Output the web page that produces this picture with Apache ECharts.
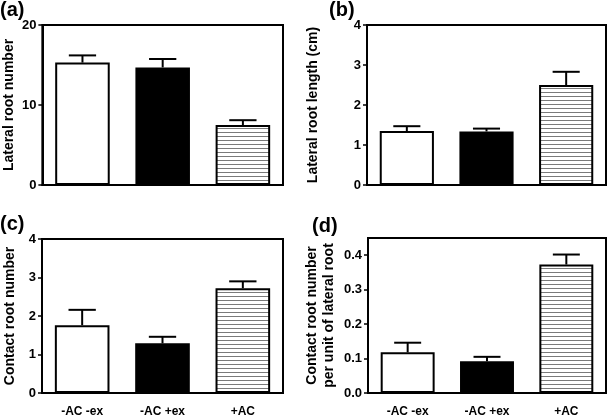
<!DOCTYPE html>
<html><head><meta charset="utf-8">
<script src="https://cdn.jsdelivr.net/npm/echarts@6/dist/echarts.min.js"></script>
<style>html,body{margin:0;padding:0;background:#fff}#c{width:609px;height:418px}</style>
</head><body><div id="c"></div>
<script>
var categories = ['-AC -ex', '-AC +ex', '+AC'];
var lateralRootNumber = [15.3, 14.7, 7.5];
var lateralRootNumberErr = [0.9, 1.05, 0.6];
var lateralRootLength = [1.35, 1.34, 2.5];
var lateralRootLengthErr = [0.12, 0.07, 0.33];
var contactRootNumber = [1.76, 1.29, 2.72];
var contactRootNumberErr = [0.4, 0.17, 0.18];
var contactPerLateral = [0.118, 0.092, 0.373];
var contactPerLateralErr = [0.028, 0.013, 0.029];
var yTitles = ['Lateral root number', 'Lateral root length (cm)', 'Contact root number', 'Contact root number\nper unit of lateral root'];
var panelLabels = ['(a)', '(b)', '(c)', '(d)'];

var pc = document.createElement('canvas');
pc.width = 4; pc.height = 4;
var pctx = pc.getContext('2d');
pctx.fillStyle = '#fff'; pctx.fillRect(0, 0, 4, 4);
pctx.fillStyle = '#7a7a7a'; pctx.fillRect(0, 0, 4, 1);
var fills = ['#ffffff', '#000000', {image: pc, repeat: 'repeat'}];

var FONT = 'Liberation Sans, Arial, sans-serif';
var grids = [
  {left: 42, top: 25, width: 241, height: 160},
  {left: 367, top: 25, width: 239, height: 160},
  {left: 42, top: 239, width: 241, height: 159},
  {left: 368, top: 238, width: 238, height: 160}
];
var yCfg = [
  {max: 20, interval: 10, gap: 23, dec: 0},
  {max: 4, interval: 1, gap: 45, dec: 0},
  {max: 4, interval: 1, gap: 23, dec: 0},
  {max: 0.45, interval: 0.1, gap: 30, dec: 1}
];
var values = [lateralRootNumber, lateralRootLength, contactRootNumber, contactPerLateral];
var errs = [lateralRootNumberErr, lateralRootLengthErr, contactRootNumberErr, contactPerLateralErr];
var BW = 0.68;

var option = {
  animation: false,
  grid: grids.map(function (g) { return Object.assign({show: true, borderColor: '#000', borderWidth: 2, backgroundColor: 'transparent'}, g); }),
  xAxis: grids.map(function (g, i) {
    return {
      type: 'category', gridIndex: i, data: categories,
      axisLine: {lineStyle: {color: '#000', width: 2}},
      axisTick: {alignWithLabel: true, length: 6, lineStyle: {color: '#000', width: 1.5}},
      axisLabel: {show: i >= 2, color: '#000', fontWeight: 'bold', fontSize: 12, fontFamily: FONT, margin: 13}
    };
  }),
  yAxis: yCfg.map(function (c, i) {
    return {
      type: 'value', gridIndex: i, min: 0, max: c.max, interval: c.interval,
      name: yTitles[i], nameLocation: 'middle', nameGap: c.gap,
      nameTextStyle: {color: '#000', fontWeight: 'bold', fontSize: 14, fontFamily: FONT, lineHeight: 17},
      axisLine: {show: true, lineStyle: {color: '#000', width: 2}},
      axisTick: {show: true, length: 4, lineStyle: {color: '#000', width: 1.5}},
      splitLine: {show: false},
      axisLabel: {color: '#000', fontWeight: 'bold', fontSize: 13, fontFamily: FONT, margin: 6, showMaxLabel: i !== 3,
        formatter: function (v) { return v.toFixed(c.dec); }}
    };
  }),
  graphic: [
    {type: 'text', left: 0, top: 0, style: {text: panelLabels[0], font: 'bold 20px ' + FONT, fill: '#000'}},
    {type: 'text', left: 329, top: 0, style: {text: panelLabels[1], font: 'bold 20px ' + FONT, fill: '#000'}},
    {type: 'text', left: 0, top: 214, style: {text: panelLabels[2], font: 'bold 20px ' + FONT, fill: '#000'}},
    {type: 'text', left: 312, top: 216, style: {text: panelLabels[3], font: 'bold 20px ' + FONT, fill: '#000'}}
  ],
  series: []
};

values.forEach(function (vals, i) {
  option.series.push({
    type: 'bar', xAxisIndex: i, yAxisIndex: i, barWidth: (BW * 100) + '%',
    data: vals.map(function (v, k) {
      return {value: v, itemStyle: {color: fills[k], borderColor: '#000', borderWidth: 2}};
    })
  });
  option.series.push({
    type: 'custom', xAxisIndex: i, yAxisIndex: i, z: 5,
    data: vals.map(function (v, k) { return [k, v, v + errs[i][k]]; }),
    renderItem: function (params, api) {
      var base = api.coord([api.value(0), api.value(1)]);
      var top = api.coord([api.value(0), api.value(2)]);
      var hw = api.size([1, 0])[0] * BW / 4;
      var st = {stroke: '#000', lineWidth: 2};
      return {type: 'group', children: [
        {type: 'line', shape: {x1: base[0], y1: base[1], x2: top[0], y2: top[1]}, style: st},
        {type: 'line', shape: {x1: top[0] - hw, y1: top[1], x2: top[0] + hw, y2: top[1]}, style: st}
      ]};
    }
  });
});

echarts.init(document.getElementById('c')).setOption(option);
</script></body></html>
